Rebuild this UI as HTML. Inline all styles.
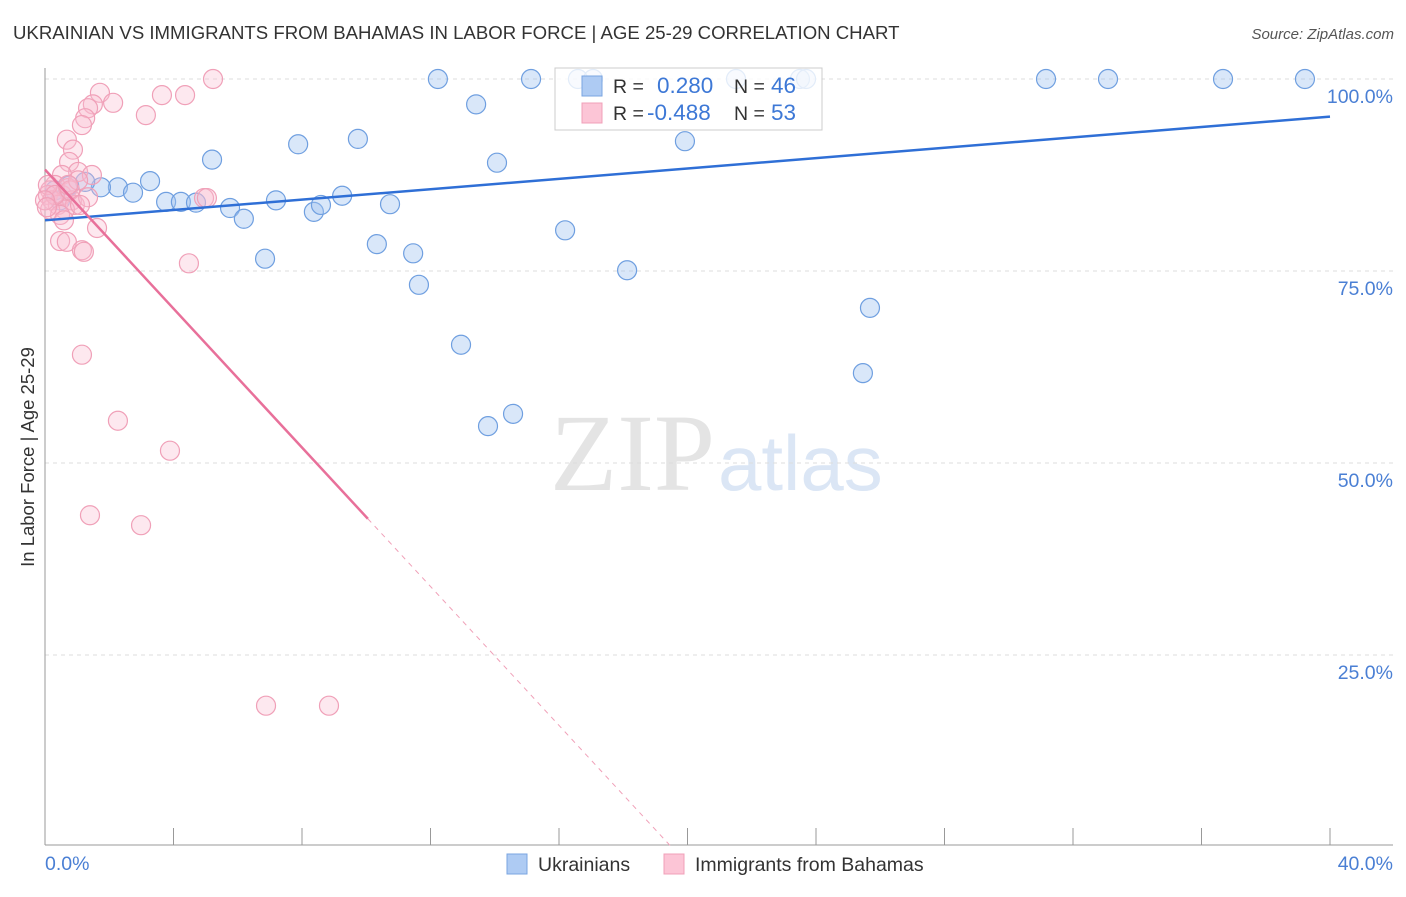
<!DOCTYPE html>
<html><head><meta charset="utf-8"><style>
body{margin:0;background:#fff;font-family:"Liberation Sans",sans-serif;}
</style></head><body>
<svg width="1406" height="892" xmlns="http://www.w3.org/2000/svg">
<text x="13" y="39" font-size="18.6" fill="#333">UKRAINIAN VS IMMIGRANTS FROM BAHAMAS IN LABOR FORCE | AGE 25-29 CORRELATION CHART</text>
<text x="1394" y="39" font-size="15" fill="#555" font-style="italic" text-anchor="end">Source: ZipAtlas.com</text>
<text x="715" y="490" font-size="110" fill="#e4e4e4" text-anchor="end" font-family="Liberation Serif,serif">ZIP</text>
<text x="718" y="490" font-size="78" fill="#dbe6f5">atlas</text>
<g id="grid"></g><g id="axes"></g><g id="marks"></g>
<text transform="translate(34,457) rotate(-90)" font-size="18.5" fill="#333" text-anchor="middle">In Labor Force | Age 25-29</text>
<text x="45" y="870" font-size="19.5" fill="#4a7fd4">0.0%</text>
<text x="1393" y="870" font-size="19.5" fill="#4a7fd4" text-anchor="end">40.0%</text>
<g>
<rect x="555" y="68" width="267" height="62" fill="#fff" fill-opacity="0.8" stroke="#ccc"/>
<rect x="582" y="76" width="20" height="20" fill="#aecbf3" stroke="#7aa5e0"/>
<rect x="582" y="103" width="20" height="20" fill="#fcc5d6" stroke="#f0a0b8"/>
<text x="613" y="93" font-size="19.5" fill="#333">R =</text>
<text x="657" y="93" font-size="22.5" fill="#3d78d6">0.280</text>
<text x="734" y="93" font-size="19.5" fill="#333">N =</text>
<text x="771" y="93" font-size="22.5" fill="#3d78d6">46</text>
<text x="613" y="120" font-size="19.5" fill="#333">R =</text>
<text x="647" y="120" font-size="22.5" fill="#3d78d6">-0.488</text>
<text x="734" y="120" font-size="19.5" fill="#333">N =</text>
<text x="771" y="120" font-size="22.5" fill="#3d78d6">53</text>
</g>
<g>
<rect x="507" y="854" width="20" height="20" fill="#aecbf3" stroke="#7aa5e0"/>
<text x="538" y="871" font-size="19.5" fill="#333">Ukrainians</text>
<rect x="664" y="854" width="20" height="20" fill="#fcc5d6" stroke="#f0a0b8"/>
<text x="695" y="871" font-size="19.5" fill="#333">Immigrants from Bahamas</text>
</g>
</svg>
<script>
const yTicks=[100,75,50,25];
const yTickLabels=["100.0%","75.0%","50.0%","25.0%"];
const xTicks=[4,8,12,16,20,24,28,32,36,40];
const blueX=[12.23,15.13,16.59,17.06,21.51,23.50,23.69,31.16,33.09,36.67,39.22,13.42,19.92,7.88,9.74,5.20,14.07,3.27,2.27,1.74,1.25,0.75,2.74,3.77,4.23,4.70,5.76,6.19,7.19,8.37,8.59,9.25,10.74,10.33,11.46,16.19,6.85,18.12,11.64,25.68,12.95,25.46,14.57,13.79,0.31,0.47];
const blueY=[100,100,100,100,100,100,100,100,100,100,100,96.7,91.9,91.5,92.2,89.5,89.1,86.7,85.9,85.9,86.6,86.1,85.2,84.0,84.0,83.9,83.2,81.8,84.2,82.7,83.6,84.8,83.7,78.5,77.3,80.3,76.6,75.1,73.2,70.2,65.4,61.7,56.4,54.8,85.5,84.2];
const pinkX=[5.23,1.71,3.64,4.36,2.12,1.49,1.34,1.25,1.15,3.14,0.68,0.87,0.75,1.03,1.46,0.53,0.31,0.16,0.09,0.22,0.40,0.53,0.72,0.84,0.93,0.62,0.16,0.47,1.34,4.95,5.04,1.62,0.47,0.68,1.15,1.21,4.48,1.15,2.27,3.89,1.40,2.99,6.88,8.84,0.09,0.31,0.78,1.03,0.0,0.06,0.59,0.72,1.09];
const pinkY=[100,98.2,97.9,97.9,96.9,96.7,96.2,94.9,94.0,95.3,92.1,90.8,89.2,87.9,87.5,87.5,86.2,85.5,84.9,84.2,83.6,84.9,85.8,84.2,83.6,83.0,83.0,82.3,84.6,84.5,84.5,80.6,78.9,78.8,77.7,77.5,76.0,64.1,55.5,51.6,43.2,41.9,18.4,18.4,86.2,84.9,85.5,86.8,84.2,83.3,81.6,86.2,83.6];
const blueTrend=[0,81.6,40,95.1];
const pinkTrend=[0,88.2,10.05,19.5];
const NS="http://www.w3.org/2000/svg";
const X=v=>45+v*32.125, Y=v=>847-v*7.68;
function mk(tag,attrs,parent){const e=document.createElementNS(NS,tag);for(const k in attrs)e.setAttribute(k,attrs[k]);document.getElementById(parent).appendChild(e);return e;}
yTicks.forEach((t,i)=>{
 let l=mk('line',{x1:45,x2:1393,y1:Y(t),y2:Y(t),stroke:'#ddd','stroke-dasharray':'4,4'},'grid');
 
 
 let tx=mk('text',{x:1393,y:Y(t)+24,'font-size':19.5,fill:'#4a7fd4','text-anchor':'end'},'grid');
 tx.textContent=yTickLabels[i];
 
 
});
let ax=mk('line',{x1:45,x2:45,y1:68,y2:845,stroke:'#999'},'axes');


let bx=mk('line',{x1:45,x2:1393,y1:845,y2:845,stroke:'#999'},'axes');


xTicks.forEach(t=>{let l=mk('line',{x1:X(t),x2:X(t),y1:828,y2:845,stroke:'#999'},'axes');
 
 });
blueX.forEach((v,i)=>{let c=mk('circle',{cx:X(v),cy:Y(blueY[i]),r:9.5,fill:'rgba(160,195,240,0.4)',stroke:'#6f9fe0','stroke-width':1.2},'marks');
 
 });
pinkX.forEach((v,i)=>{let c=mk('circle',{cx:X(v),cy:Y(pinkY[i]),r:9.5,fill:'rgba(248,190,210,0.35)',stroke:'#f0a0b8','stroke-width':1.2},'marks');
 
 });
let bl=mk('line',{x1:X(blueTrend[0]),y1:Y(blueTrend[1]),x2:X(blueTrend[2]),y2:Y(blueTrend[3]),stroke:'#2f6fd6','stroke-width':2.5},'marks');


const ps=(pinkTrend[1]-0)/pinkTrend[3];
const pAt=x=>pinkTrend[1]-ps*x;
let pl=mk('line',{x1:X(0),y1:Y(pAt(0)),x2:X(pinkTrend[2]),y2:Y(pAt(pinkTrend[2])),stroke:'#e8709a','stroke-width':2.5},'marks');


let pd=mk('line',{x1:X(pinkTrend[2]),y1:Y(pAt(pinkTrend[2])),x2:X(pinkTrend[3]),y2:Y(0),stroke:'#f0a0b8','stroke-width':1,'stroke-dasharray':'5,5'},'marks');


</script>
</body></html>
